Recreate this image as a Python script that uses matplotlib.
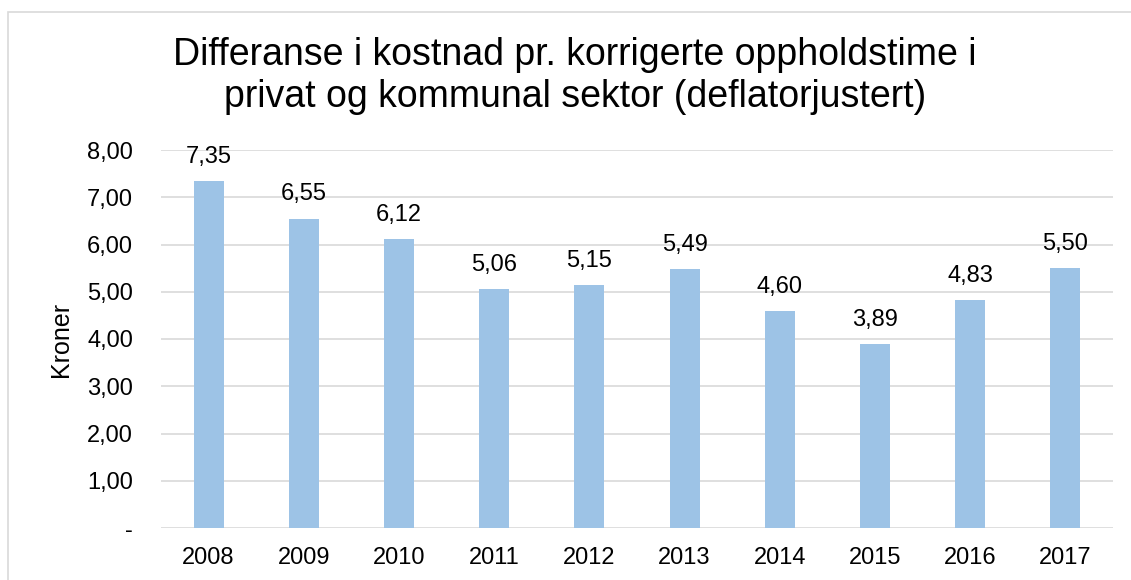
import matplotlib.pyplot as plt
from matplotlib.patches import Rectangle

plt.rcParams['font.family'] = ['Liberation Sans', 'DejaVu Sans']

years = ['2008', '2009', '2010', '2011', '2012', '2013', '2014', '2015', '2016', '2017']
values = [7.35, 6.55, 6.12, 5.06, 5.15, 5.49, 4.60, 3.89, 4.83, 5.50]
yticks = [0, 1, 2, 3, 4, 5, 6, 7, 8]
ytick_labels = ['-', '1,00', '2,00', '3,00', '4,00', '5,00', '6,00', '7,00', '8,00']
title_lines = ['Differanse i kostnad pr. korrigerte oppholdstime i',
               'privat og kommunal sektor (deflatorjustert)']

W, H = 1131, 580
fig = plt.figure(figsize=(W / 100, H / 100), dpi=100)
ax = fig.add_axes([161 / W, 1 - 528 / H, (1113 - 161) / W, (528 - 150) / H])

x = range(len(years))
ax.bar(x, values, width=0.315, color='#9DC3E6', zorder=3)
for xi, v in zip(x, values):
    ax.annotate(f'{v:.2f}'.replace('.', ','), (xi, v), xytext=(0, 13), textcoords='offset points',
                ha='center', va='baseline', fontsize=17)

ax.set_xlim(-0.5, len(years) - 0.5)
ax.set_ylim(0, 8)
ax.set_yticks(yticks)
ax.set_yticklabels(ytick_labels, fontsize=17)
ax.set_xticks(list(x))
ax.set_xticklabels(years, fontsize=17)
ax.tick_params(length=0)
ax.tick_params(axis='x', pad=14)
ax.tick_params(axis='y', pad=20)
ax.grid(axis='y', color='#D9D9D9', linewidth=1.2, zorder=0)
for s in ax.spines.values():
    s.set_visible(False)
ax.set_ylabel('Kroner', fontsize=18, labelpad=10)

# two title lines placed by baseline
for line, base in zip(title_lines, [65, 107]):
    fig.text(575 / W, 1 - base / H, line, ha='center', va='baseline', fontsize=27)

fig.patches.append(Rectangle((7.5 / W, -0.1), 1.2, 1 - 11.5 / H + 0.1, transform=fig.transFigure,
                             fill=False, edgecolor='#D9D9D9', linewidth=1.2))

fig.savefig('out.png', dpi=100)
